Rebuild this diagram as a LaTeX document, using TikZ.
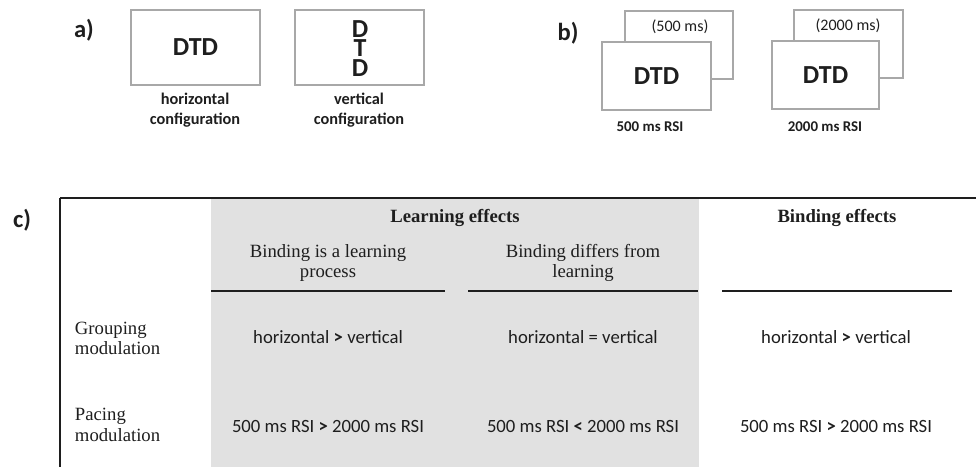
\documentclass[tikz,border=0pt]{standalone}
\usepackage{fontspec}
\setmainfont{Liberation Serif}
\setsansfont{Carlito}
\usetikzlibrary{positioning}
\definecolor{Frame}{HTML}{A8A8A8}
\definecolor{Shade}{HTML}{E1E1E1}
\definecolor{Ink}{HTML}{1E1E1E}
\newcommand\panelfont{\sffamily\bfseries\fontsize{17.5}{20}\selectfont}
\newcommand\stimfont{\sffamily\bfseries\fontsize{18.5}{20}\selectfont}
\newcommand\capfont{\sffamily\bfseries\fontsize{11.6}{14.2}\selectfont}
\newcommand\cellfont{\fontsize{13.3}{14.6}\selectfont}

\begin{document}
\begin{tikzpicture}[x=0.025cm,y=-0.025cm,
    screen/.style={draw=Frame,line width=1pt,fill=white,inner sep=0pt},
    letter/.style={font=\stimfont,text=Ink,inner sep=0pt},
    caption/.style={font=\capfont,text=Ink,align=center},
    serifcell/.style={font=\cellfont,text=Ink,align=center},
    sanscell/.style={font=\sffamily\cellfont,text=Ink},
    rowhead/.style={font=\cellfont,text=Ink,align=left,anchor=west}]
  \useasboundingbox (0,0) rectangle (976,467);

  % a) spatial configuration
  \node[font=\panelfont,text=Ink] (pa) at (84,30) {a)};
  \node[screen,minimum width=3.225cm,minimum height=1.875cm] (hbox) at (195.5,47.5)
    {\stimfont\color{Ink}DTD};
  \node[screen,minimum width=3.225cm,minimum height=1.875cm] (vbox) at (359.5,47.5) {};
  \node[letter] (vd1) at (360,29) {D};
  \node[letter] (vt) at (360,48) {T};
  \node[letter] (vd2) at (360,68) {D};
  \node[caption] (hcap) at (195,110) {horizontal\\configuration};
  \node[caption] (vcap) at (359,110) {vertical\\configuration};

  % b) pacing, RSI shown on the back screen
  \node[font=\panelfont,text=Ink] (pb) at (568,33) {b)};
  \node[screen,minimum width=2.7cm,minimum height=1.7cm] (back1) at (679,45) {};
  \node[font=\sffamily\fontsize{11.4}{13}\selectfont,text=Ink] (rsi1) at (680,27) {(500 ms)};
  \node[screen,minimum width=2.725cm,minimum height=1.7cm] (front1) at (656.5,76)
    {\stimfont\color{Ink}DTD};
  \node[caption,font=\sffamily\bfseries\fontsize{10.6}{13}\selectfont] (cap1) at (650,127) {500 ms RSI};
  \node[screen,minimum width=2.725cm,minimum height=1.7cm] (back2) at (848.5,44) {};
  \node[font=\sffamily\fontsize{11.4}{13}\selectfont,text=Ink] (rsi2) at (848,26) {(2000 ms)};
  \node[screen,minimum width=2.675cm,minimum height=1.7cm] (front2) at (825.5,75)
    {\stimfont\color{Ink}DTD};
  \node[caption,font=\sffamily\bfseries\fontsize{10.6}{13}\selectfont] (cap2) at (825,127) {2000 ms RSI};

  % c) predictions table
  \node[font=\panelfont,text=Ink] (pc) at (22,220) {c)};
  \fill[Shade] (211,198) rectangle (699,467);
  \draw[Ink,line width=1pt] (60,198) -- (976,198);
  \draw[Ink,line width=0.8pt] (60,198) -- (60,467);
  \foreach \a/\b in {211/445,468/698,722/952}
    \draw[Ink,line width=0.8pt] (\a,291) -- (\b,291);

  \node[serifcell,font=\bfseries\cellfont] (learn) at (455,218) {Learning effects};
  \node[serifcell,font=\bfseries\cellfont] (bind) at (837,218) {Binding effects};
  \node[serifcell] (isl) at (328,263) {Binding is a learning\\process};
  \node[serifcell] (difl) at (583,263) {Binding differs from\\learning};

  \node[rowhead] (grp) at (70,338.5) {Grouping\\modulation};
  \node[rowhead] (pac) at (70,425) {Pacing\\modulation};

  \node[sanscell] (g1) at (328,337) {horizontal \textbf{>} vertical};
  \node[sanscell] (g2) at (583,337) {horizontal = vertical};
  \node[sanscell] (g3) at (836,337) {horizontal \textbf{>} vertical};
  \node[sanscell] (p1) at (328,426) {500 ms RSI \textbf{>} 2000 ms RSI};
  \node[sanscell] (p2) at (583,426) {500 ms RSI \textbf{<} 2000 ms RSI};
  \node[sanscell] (p3) at (836,426) {500 ms RSI \textbf{>} 2000 ms RSI};
\end{tikzpicture}
\end{document}
